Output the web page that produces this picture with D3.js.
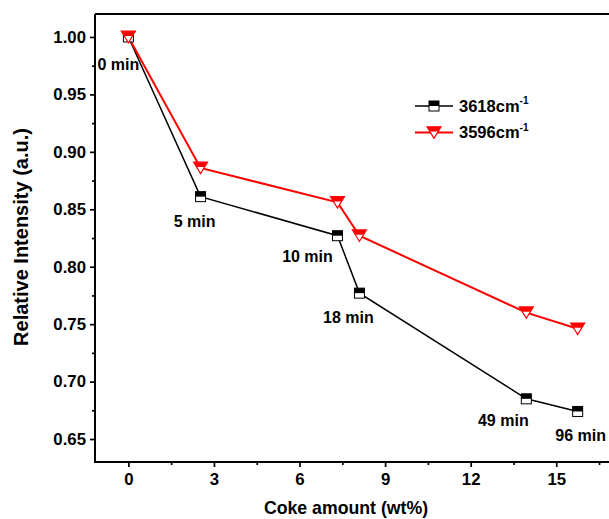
<!DOCTYPE html>
<html lang="en">
<head>
<meta charset="utf-8">
<title>relative intensity vs coke</title>
<script src="https://d3js.org/d3.v7.min.js"></script>
<style>
  body { margin: 0; background: #fff; }
  svg { font-family: "Liberation Sans", Arial, sans-serif; font-weight: bold; }
</style>
</head>
<body>
<div id="chart"></div>
<script>
var coke = [0, 2.53, 7.33, 8.1, 13.95, 15.75]
var times = ["0 min", "5 min", "10 min", "18 min", "49 min", "96 min"]
var band3618 = [1.000, 0.861, 0.827, 0.777, 0.685, 0.674]
var band3596 = [1.000, 0.886, 0.856, 0.827, 0.760, 0.746]
var seriesNames = ["3618", "3596"]
var yTicks = [0.65, 0.70, 0.75, 0.80, 0.85, 0.90, 0.95, 1.00]
var xTicks = [0, 3, 6, 9, 12, 15]

var W = 609, H = 519
var mLeft = 95, mTop = 14, mBottom = 462

var svg = d3.select("#chart").append("svg").attr("width", W).attr("height", H)

var x = d3.scaleLinear().domain([-1.17, 17.9]).range([mLeft, 639])
var y = d3.scaleLinear().domain([0.63, 1.02]).range([mBottom, mTop])

// minor ticks first
var yMinor = yTicks.slice(0, -1).map(function(d){ return d + 0.025 })
var xMinor = xTicks.map(function(d){ return d + 1.5 })
svg.append("g").attr("transform", "translate(" + mLeft + ",0)")
  .call(d3.axisLeft(y).tickValues(yMinor).tickSize(3).tickFormat(""))
svg.append("g").attr("transform", "translate(0," + mBottom + ")")
  .call(d3.axisBottom(x).tickValues(xMinor).tickSize(3).tickFormat(""))

svg.append("g").attr("transform", "translate(" + mLeft + ",0)")
  .call(d3.axisLeft(y).tickValues(yTicks).tickSize(5).tickPadding(4).tickFormat(d3.format(".2f")))
svg.append("g").attr("transform", "translate(0," + mBottom + ")")
  .call(d3.axisBottom(x).tickValues(xTicks).tickSize(5).tickPadding(6).tickFormat(d3.format("d")))

svg.selectAll(".domain").remove()
svg.selectAll(".tick line").attr("stroke", "#000").attr("stroke-width", 1.7)
svg.selectAll(".tick text").attr("fill", "#000").style("font-size", "16.8px").style("font-weight", "bold")

// frame
svg.append("path").attr("d", "M" + mLeft + "," + mTop + "H" + W)
  .attr("stroke", "#000").attr("stroke-width", 2)
svg.append("path").attr("d", "M" + mLeft + "," + mTop + "V" + mBottom + "H" + W)
  .attr("stroke", "#000").attr("stroke-width", 2).attr("fill", "none")

var line = d3.line().x(function(d){ return x(d[0]) }).y(function(d){ return y(d[1]) })
var pts3618 = coke.map(function(c, i){ return [c, band3618[i]] })
var pts3596 = coke.map(function(c, i){ return [c, band3596[i]] })

function square(g, cx, cy) {
  var s = 10
  g.append("rect").attr("x", cx - s/2).attr("y", cy - s/2).attr("width", s).attr("height", s)
    .attr("fill", "#fff").attr("stroke", "#000").attr("stroke-width", 1)
  g.append("rect").attr("x", cx - s/2).attr("y", cy - s/2).attr("width", s).attr("height", s/2)
    .attr("fill", "#000")
}
function triangle(g, cx, cy) {
  var w = 14, h = 11.5
  var t = cy - h/2, b = cy + h/2, f = 0.42
  g.append("path").attr("d", "M" + (cx - w/2) + "," + t + "L" + (cx + w/2) + "," + t + "L" + cx + "," + b + "Z")
    .attr("fill", "#fff").attr("stroke", "red").attr("stroke-width", 1.2)
  g.append("path").attr("d", "M" + (cx - w/2) + "," + t + "L" + (cx + w/2) + "," + t +
      "L" + (cx + w/2 * (1 - f)) + "," + (t + h * f) + "L" + (cx - w/2 * (1 - f)) + "," + (t + h * f) + "Z")
    .attr("fill", "red")
}

svg.append("path").attr("d", line(pts3618)).attr("fill", "none").attr("stroke", "#000").attr("stroke-width", 1.5)
svg.append("path").attr("d", line(pts3596)).attr("fill", "none").attr("stroke", "red").attr("stroke-width", 2)

var gs = svg.append("g")
pts3618.forEach(function(p){ square(gs, x(p[0]), y(p[1])) })
var gt = svg.append("g")
pts3596.forEach(function(p){ triangle(gt, x(p[0]), y(p[1])) })

// time labels below the black points
var labelOffsets = [[-10, 33], [-6, 30], [-30, 26], [-11, 30], [-23, 27], [3, 30]]
svg.append("g").selectAll("text").data(times).enter().append("text")
  .attr("x", function(d, i){ return x(coke[i]) + labelOffsets[i][0] })
  .attr("y", function(d, i){ return y(band3618[i]) + labelOffsets[i][1] })
  .attr("text-anchor", "middle").style("font-size", "16px")
  .text(function(d){ return d })

// legend
var leg = svg.append("g")
seriesNames.forEach(function(n, i){
  var ly = 106 + i * 26.5
  leg.append("line").attr("x1", 415).attr("x2", 453).attr("y1", ly).attr("y2", ly)
    .attr("stroke", i == 0 ? "#000" : "red").attr("stroke-width", i == 0 ? 1.5 : 2)
  if (i == 0) square(leg, 434, ly); else triangle(leg, 434, ly)
  var t = leg.append("text").attr("x", 459).attr("y", ly + 5.5).style("font-size", "16.5px")
  t.append("tspan").text(n + "cm")
  t.append("tspan").attr("dy", -7.5).style("font-size", "10px").text("-1")
})

// axis titles
svg.append("text").attr("x", 346).attr("y", 514).attr("text-anchor", "middle")
  .style("font-size", "17.7px").text("Coke amount (wt%)")
svg.append("text").attr("transform", "translate(28,237) rotate(-90)").attr("text-anchor", "middle")
  .style("font-size", "20px").text("Relative Intensity (a.u.)")
</script>
</body>
</html>
